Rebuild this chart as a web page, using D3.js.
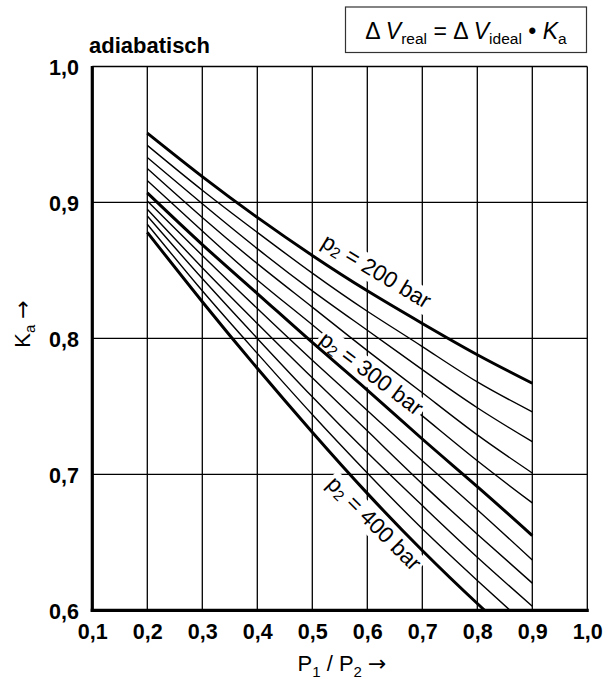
<!DOCTYPE html>
<html><head><meta charset="utf-8">
<script src="https://cdn.jsdelivr.net/npm/d3@7"></script>
<style>body{margin:0;background:#fff}svg{display:block}</style>
</head><body>
<svg id="c" width="609" height="679"></svg>
<script>
// ---- data ----
const ratioTicks = [0.1, 0.2, 0.3, 0.4, 0.5, 0.6, 0.7, 0.8, 0.9, 1.0];
const kaTicks = [0.6, 0.7, 0.8, 0.9, 1.0];
const ratioPoints = [0.2, 0.3, 0.4, 0.5, 0.6, 0.7, 0.8, 0.9];
const pressures = [200, 220, 240, 260, 280, 300, 320, 340, 360, 380, 400];
const ka200 = [0.951, 0.919, 0.889, 0.861, 0.835, 0.811, 0.788, 0.767];
const ka220 = [0.942, 0.909, 0.878, 0.848, 0.820, 0.794, 0.768, 0.746];
const ka240 = [0.933, 0.899, 0.866, 0.835, 0.806, 0.777, 0.749, 0.724];
const ka260 = [0.925, 0.889, 0.855, 0.823, 0.791, 0.760, 0.729, 0.701];
const ka280 = [0.916, 0.879, 0.843, 0.810, 0.776, 0.743, 0.710, 0.679];
const ka300 = [0.907, 0.869, 0.833, 0.797, 0.762, 0.726, 0.691, 0.655];
const ka320 = [0.901, 0.861, 0.822, 0.784, 0.747, 0.710, 0.674, 0.637];
const ka340 = [0.895, 0.852, 0.811, 0.771, 0.732, 0.693, 0.656, 0.620];
const ka360 = [0.890, 0.844, 0.800, 0.757, 0.716, 0.677, 0.639, 0.603];
const ka380 = [0.884, 0.835, 0.789, 0.744, 0.701, 0.660, 0.622, 0.585];
const ka400 = [0.878, 0.827, 0.778, 0.731, 0.686, 0.644, 0.605, 0.568];
const seriesValues = [ka200, ka220, ka240, ka260, ka280, ka300, ka320, ka340, ka360, ka380, ka400];
const labelledPressures = [200, 300, 400];

// ---- layout ----
const FONT = "'Liberation Sans', Arial, sans-serif";
const svg = d3.select("#c");
const x = d3.scaleLinear().domain([0.1, 1.0]).range([92.3, 587.3]);
const y = d3.scaleLinear().domain([0.6, 1.0]).range([610.3, 66.5]);

svg.append("defs").append("clipPath").attr("id", "plotclip")
  .append("rect").attr("x", x(0.1)).attr("y", y(1.0))
  .attr("width", x(1.0) - x(0.1)).attr("height", y(0.6) - y(1.0));

// grid
const grid = svg.append("g").attr("stroke", "#000").attr("stroke-width", 1.3);
grid.selectAll("line.v").data(ratioTicks.filter(d => d > 0.1)).join("line")
  .attr("x1", d => x(d)).attr("x2", d => x(d))
  .attr("y1", y(1.0)).attr("y2", y(0.6));
grid.selectAll("line.h").data(kaTicks.filter(d => d > 0.6)).join("line")
  .attr("x1", x(0.1)).attr("x2", x(1.0))
  .attr("y1", d => y(d)).attr("y2", d => y(d));

// curves
const line = d3.line().x(d => x(d[0])).y(d => y(d[1])).curve(d3.curveNatural);
const curves = pressures.map((p, i) => ({p, pts: ratioPoints.map((r, j) => [r, seriesValues[i][j]])}));
const thinLayer = svg.append("g").attr("clip-path", "url(#plotclip)");
const maskLayer = svg.append("g");
const thickLayer = svg.append("g").attr("clip-path", "url(#plotclip)");
const textLayer = svg.append("g");

thinLayer.selectAll("path").data(curves.filter(c => !labelledPressures.includes(c.p))).join("path")
  .attr("d", c => line(c.pts)).attr("fill", "none").attr("stroke", "#000").attr("stroke-width", 1.4);
thickLayer.selectAll("path").data(curves.filter(c => labelledPressures.includes(c.p))).join("path")
  .attr("d", c => line(c.pts)).attr("fill", "none").attr("stroke", "#000").attr("stroke-width", 3);

// axes lines
svg.append("line").attr("x1", x(0.1)).attr("x2", x(0.1)).attr("y1", y(1.0) - 0.6).attr("y2", y(0.6) + 1.5)
  .attr("stroke", "#000").attr("stroke-width", 3.2);
svg.append("line").attr("x1", x(0.1) - 1.6).attr("x2", x(1.0) + 1.5).attr("y1", y(0.6)).attr("y2", y(0.6))
  .attr("stroke", "#000").attr("stroke-width", 3.2);

// curve labels
const labelCfg = [
  {p: 200, r: 0.514, k: 0.868, a: 31},
  {p: 300, r: 0.510, k: 0.797, a: 37},
  {p: 400, r: 0.524, k: 0.692, a: 45}
];
labelCfg.forEach(L => {
  const tr = `translate(${x(L.r)},${y(L.k)}) rotate(${L.a})`;
  const g = textLayer.append("g").attr("transform", tr);
  const t = g.append("text").attr("font-family", FONT).attr("font-size", 22.5).attr("fill", "#000");
  t.append("tspan").text("p");
  t.append("tspan").attr("font-size", 15).attr("dy", 3).text("2");
  t.append("tspan").attr("dy", -3).text(" = " + L.p + " bar");
  const bb = t.node().getBBox();
  maskLayer.append("rect").attr("transform", tr)
    .attr("x", bb.x - 2).attr("y", bb.y + 1).attr("width", bb.width + 4).attr("height", bb.height - 1)
    .attr("fill", "#fff");
});

// tick labels
const fmt = d => d.toFixed(1).replace(".", ",");
const xAxis = svg.append("g").attr("transform", `translate(0,639)`)
  .call(d3.axisBottom(x).tickValues(ratioTicks).tickFormat(fmt).tickSize(0).tickPadding(0));
xAxis.select(".domain").remove();
xAxis.selectAll("text").attr("dy", 0).attr("y", 0)
  .attr("font-family", FONT).attr("font-size", 21.5).attr("font-weight", "bold").attr("fill", "#000");
const yAxis = svg.append("g").attr("transform", `translate(79,0)`)
  .call(d3.axisLeft(y).tickValues(kaTicks).tickFormat(fmt).tickSize(0).tickPadding(0));
yAxis.select(".domain").remove();
yAxis.selectAll("text").attr("x", 0).attr("dy", "0.36em")
  .attr("font-family", FONT).attr("font-size", 21.5).attr("font-weight", "bold").attr("fill", "#000");

// title
svg.append("text").attr("x", 89).attr("y", 53).attr("font-family", FONT).attr("font-size", 22)
  .attr("font-weight", "bold").text("adiabatisch");

// formula box
svg.append("rect").attr("x", 345.5).attr("y", 7).attr("width", 241).attr("height", 45.5)
  .attr("fill", "#fff").attr("stroke", "#333").attr("stroke-width", 1.2);
const ft = svg.append("text").attr("x", 466).attr("y", 38.5).attr("text-anchor", "middle")
  .attr("font-family", FONT).attr("font-size", 23);
function part(t, opts) {
  const s = ft.append("tspan").text(t);
  if (opts && opts.it) s.attr("font-style", "italic");
  if (opts && opts.sub) s.attr("font-size", 15.5).attr("dy", 5);
  if (opts && opts.up) s.attr("dy", -5);
  return s;
}
part("\u0394 ");
part("V", {it: 1});
part("real", {sub: 1});
part(" = \u0394 ", {up: 1});
part("V", {it: 1});
part("ideal", {sub: 1});
part(" \u2022 ", {up: 1});
part("K", {it: 1});
part("a", {sub: 1});

// axis titles
const ARROWFONT = "'DejaVu Sans', sans-serif";
const yt = svg.append("text").attr("transform", "translate(30,324) rotate(-90)")
  .attr("text-anchor", "middle").attr("font-family", FONT).attr("font-size", 22);
yt.append("tspan").text("K");
yt.append("tspan").attr("font-size", 15).attr("dy", 5).text("a");
yt.append("tspan").attr("dy", -5).text(" ");
yt.append("tspan").attr("font-family", ARROWFONT).attr("font-size", 22).text("\u2192");

const xt = svg.append("text").attr("x", 342).attr("y", 671)
  .attr("text-anchor", "middle").attr("font-family", FONT).attr("font-size", 22);
xt.append("tspan").text("P");
xt.append("tspan").attr("font-size", 15).attr("dy", 6).text("1");
xt.append("tspan").attr("dy", -6).text(" / P");
xt.append("tspan").attr("font-size", 15).attr("dy", 6).text("2");
xt.append("tspan").attr("dy", -6).text(" ");
xt.append("tspan").attr("font-family", ARROWFONT).attr("font-size", 22).text("\u2192");
</script>
</body></html>
